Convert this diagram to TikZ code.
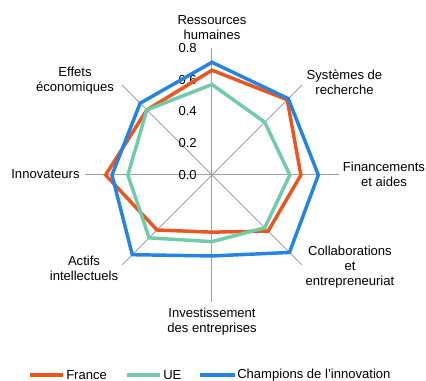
\documentclass[tikz,border=0pt]{standalone}
\usepackage{fontspec}
\setmainfont{Liberation Sans}
\definecolor{frcol}{RGB}{235,85,30}
\definecolor{uecol}{RGB}{112,204,168}
\definecolor{chcol}{RGB}{36,132,228}
\definecolor{axcol}{RGB}{160,160,160}
\tikzset{
  spoke/.style={draw=axcol, line width=0.75pt},
  series/.style={line width=2.6pt, line join=miter},
  axlabel/.style={align=center, inner sep=0pt},
  ticklabel/.style={anchor=east, inner sep=0pt},
}
\begin{document}
\begin{tikzpicture}[x=0.75pt, y=0.75pt,
    font=\fontsize{9.8}{11.25}\selectfont]
    \useasboundingbox (-212,-206) rectangle (214,175);
    \def\u{158.75}
    \coordinate (ctr) at (0,0);
    % spokes
    \foreach \a in {0,45,...,315}
      \draw[spoke] (ctr) -- (\a:{0.8*\u});
    % scale
    \foreach \t/\lab in {0/0.0,1/0.2,2/0.4,3/0.6,4/0.8}
      \node[ticklabel] (tick\t) at (-15,{\t*0.2*\u}) {\lab};
    % series
    \foreach \v [count=\i from 0] in {0.66,0.67,0.56,0.50,0.36,0.49,0.67,0.58}
      \coordinate (fr\i) at ({90-45*\i}:{\v*\u});
    \foreach \v [count=\i from 0] in {0.57,0.47,0.49,0.47,0.42,0.56,0.53,0.58}
      \coordinate (ue\i) at ({90-45*\i}:{\v*\u});
    \foreach \v [count=\i from 0] in {0.71,0.68,0.67,0.69,0.51,0.71,0.63,0.64}
      \coordinate (ch\i) at ({90-45*\i}:{\v*\u});
    \draw[series, frcol] (fr0) -- (fr1) -- (fr2) -- (fr3) -- (fr4) -- (fr5) -- (fr6) -- (fr7) -- cycle;
    \draw[series, uecol] (ue0) -- (ue1) -- (ue2) -- (ue3) -- (ue4) -- (ue5) -- (ue6) -- (ue7) -- cycle;
    \draw[series, chcol] (ch0) -- (ch1) -- (ch2) -- (ch3) -- (ch4) -- (ch5) -- (ch6) -- (ch7) -- cycle;
    % axis labels
    \node[axlabel] (rh) at (0,147.5) {Ressources\\humaines};
    \node[axlabel] (sr) at (132.5,92.5) {Systèmes de\\recherche};
    \node[axlabel] (fa) at (172,0.5) {Financements\\et aides};
    \node[axlabel] (ce) at (138,-92) {Collaborations\\et\\entrepreneuriat};
    \node[axlabel] (ie) at (0,-146.5) {Investissement\\des entreprises};
    \node[axlabel] (ai) at (-128,-93) {Actifs\\intellectuels};
    \node[axlabel] (in) at (-166.5,0.7) {Innovateurs};
    \node[axlabel] (ee) at (-137,94) {Effets\\économiques};
    % legend
    \draw[series, frcol] (-182,-200) -- (-149,-200);
    \node[anchor=west, inner sep=0pt] (lfr) at (-146,-200) {France};
    \draw[series, uecol] (-85,-200) -- (-52,-200);
    \node[anchor=west, inner sep=0pt] (lue) at (-49,-200) {UE};
    \draw[series, chcol] (-12,-200) -- (23,-200);
    \node[anchor=west, inner sep=0pt] (lch) at (25,-200) {Champions de l’innovation};
  \end{tikzpicture}
\end{document}
